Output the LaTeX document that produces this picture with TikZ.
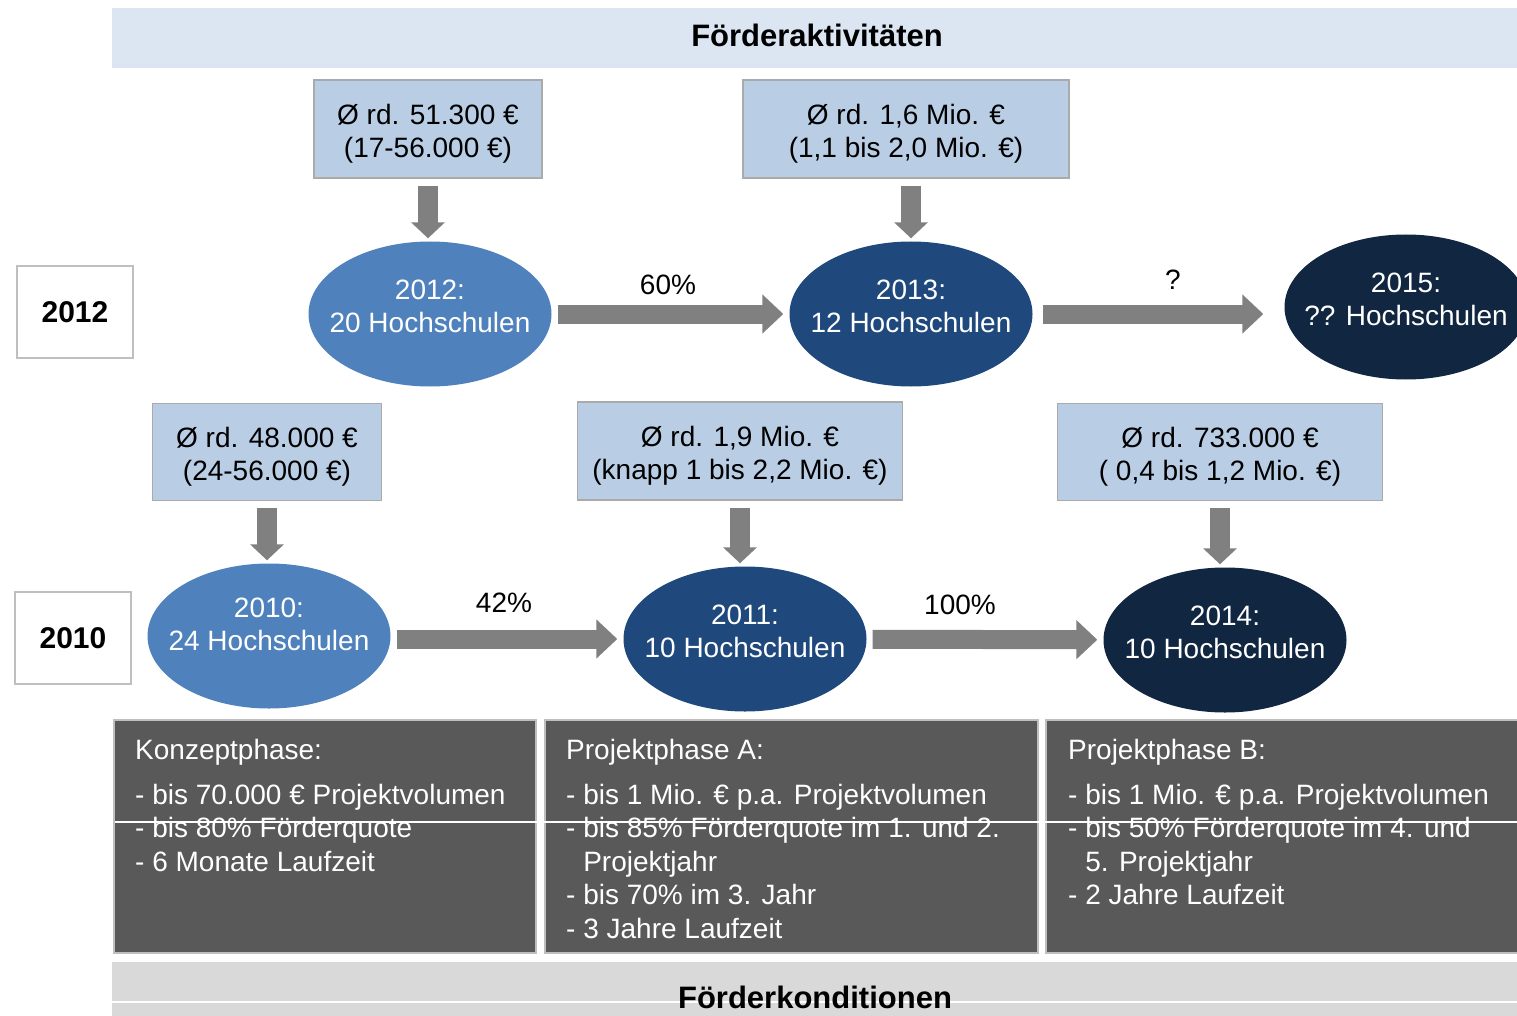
\documentclass[tikz,border=0pt]{standalone}
\usepackage{fontspec}
\setmainfont{Liberation Sans}
\usetikzlibrary{arrows.meta}
\usetikzlibrary{shapes.geometric}
\definecolor{bandblue}{RGB}{220,230,242}
\definecolor{boxblue}{RGB}{185,205,229}
\definecolor{boxgray}{RGB}{170,170,170}
\definecolor{midblue}{RGB}{79,129,189}
\definecolor{deepblue}{RGB}{31,73,125}
\definecolor{nightblue}{RGB}{17,38,64}
\definecolor{arrowgray}{RGB}{128,128,128}
\definecolor{panelgray}{RGB}{89,89,89}
\definecolor{panelline}{RGB}{191,191,191}
\definecolor{bandgray}{RGB}{217,217,217}
\newcommand{\boxstrut}{\rule{0pt}{30pt}}
\tikzset{fbox/.style={rectangle,draw=boxgray,fill=boxblue,line width=1.5pt,align=center,inner sep=0pt,font=\fontsize{28}{33}\selectfont}}
\tikzset{yearbox/.style={rectangle,draw=panelline,fill=white,line width=1.5pt,minimum width=116pt,minimum height=92pt,font=\bfseries\fontsize{30}{36}\selectfont}}
\tikzset{hs/.style={ellipse,minimum width=243pt,minimum height=145pt,inner sep=0pt}}
\tikzset{hstxt/.style={text=white,align=center,yshift=8pt,font=\fontsize{28}{33}\selectfont}}
\tikzset{pct/.style={font=\fontsize{28}{33}\selectfont}}
\tikzset{flow/.style={draw=arrowgray,line width=19pt,-{Triangle[length=21pt,width=38pt]},shorten <=6pt,shorten >=6pt}}
\tikzset{drop/.style={draw=arrowgray,line width=20pt,-{Triangle[length=16pt,width=33pt]},shorten <=7pt,shorten >=3pt}}
\tikzset{panel/.style={draw=panelline,fill=panelgray,line width=2pt}}
\tikzset{paneltxt/.style={text=white,align=left,anchor=north west,inner sep=0pt,font=\fontsize{28}{33.5}\selectfont}}
\tikzset{bandtitle/.style={font=\bfseries\fontsize{31}{36}\selectfont}}

\begin{document}
\begin{tikzpicture}[x=1pt,y=-1pt]
  \useasboundingbox (0,0) rectangle (1517,1016);
  % Bands
  \fill[bandblue] (112,8) rectangle (1517,68);
  \node[bandtitle] (ftop) at (817,35) {Förderaktivitäten};
  \fill[bandgray] (112,962) rectangle (1517,1016);
  \draw[white,line width=1.5pt] (112,1002) -- (1517,1002);
  \node[bandtitle] (fbot) at (815,997) {Förderkonditionen};

  % Years
  \node[yearbox] (y2012) at (75,312) {2012};
  \node[yearbox] (y2010) at (73,638) {2010};

  % Funding boxes
  \node[fbox,minimum width=228pt,minimum height=98pt] (a1) at (428,129) {\boxstrut Ø rd. 51.300 €\\(17-56.000 €)};
  \node[fbox,minimum width=326pt,minimum height=98pt] (a2) at (906,129) {\boxstrut Ø rd. 1,6 Mio. €\\(1,1 bis 2,0 Mio. €)};
  \node[fbox,minimum width=229pt,minimum height=97pt] (b1) at (267,452) {\boxstrut Ø rd. 48.000 €\\(24-56.000 €)};
  \node[fbox,minimum width=325pt,minimum height=98pt] (b2) at (740,451) {\boxstrut Ø rd. 1,9 Mio. €\\(knapp 1 bis 2,2 Mio. €)};
  \node[fbox,minimum width=325pt,minimum height=97pt] (b3) at (1220,452) {\boxstrut Ø rd. 733.000 €\\( 0,4 bis 1,2 Mio. €)};

  % Universities
  \node[hs,fill=midblue,label={[hstxt]center:2012:\\20 Hochschulen}] (e2012) at (430,314) {};
  \node[hs,fill=deepblue,label={[hstxt]center:2013:\\12 Hochschulen}] (e2013) at (911,314) {};
  \node[hs,fill=nightblue,label={[hstxt]center:2015:\\?? Hochschulen}] (e2015) at (1406,307) {};
  \node[hs,fill=midblue,label={[hstxt,yshift=4pt]center:2010:\\24 Hochschulen}] (e2010) at (269,636) {};
  \node[hs,fill=deepblue,label={[hstxt]center:2011:\\10 Hochschulen}] (e2011) at (745,639) {};
  \node[hs,fill=nightblue,label={[hstxt]center:2014:\\10 Hochschulen}] (e2014) at (1225,640) {};

  % Arrows
  \draw[drop] (a1.south) -- (a1.south |- e2012.north);
  \draw[drop] (e2013.north |- a2.south) -- (e2013.north);
  \draw[drop] (b1.south) -- (b1.south |- e2010.north);
  \draw[drop] (b2.south) -- (b2.south |- e2011.north);
  \draw[drop] (b3.south) -- (b3.south |- e2014.north);
  \draw[flow] (e2012) -- (e2013);
  \draw[flow,shorten <=10pt,shorten >=21pt] (e2013.east) -- (e2013.east -| e2015.west);
  \draw[flow] (e2010.east |- e2011) -- (e2011);
  \draw[flow] (e2011) -- (e2014);
  \node[pct] (p60) at (668,285) {60\%};
  \node[pct] (pq) at (1173,280) {?};
  \node[pct] (p42) at (504,603) {42\%};
  \node[pct] (p100) at (960,605) {100\%};

  % Conditions
  \draw[panel] (114,720) rectangle (536,953);
  \draw[panel] (545,720) rectangle (1038,953);
  \draw[panel] (1046,720) rectangle (1525,953);
  \node[paneltxt] (k1) at (135,739) {Konzeptphase:\\[11.5pt]- bis 70.000 € Projektvolumen\\- bis 80\% Förderquote\\- 6 Monate Laufzeit};
  \node[paneltxt] (k2) at (566,739) {Projektphase A:\\[11.5pt]- bis 1 Mio. € p.a. Projektvolumen\\- bis 85\% Förderquote im 1. und 2.\\\phantom{- }Projektjahr\\- bis 70\% im 3. Jahr\\- 3 Jahre Laufzeit};
  \node[paneltxt] (k3) at (1068,739) {Projektphase B:\\[11.5pt]- bis 1 Mio. € p.a. Projektvolumen\\- bis 50\% Förderquote im 4. und\\\phantom{- }5. Projektjahr\\- 2 Jahre Laufzeit};
  \draw[white,line width=1.2pt] (115,822) -- (1517,822);
\end{tikzpicture}
\end{document}
